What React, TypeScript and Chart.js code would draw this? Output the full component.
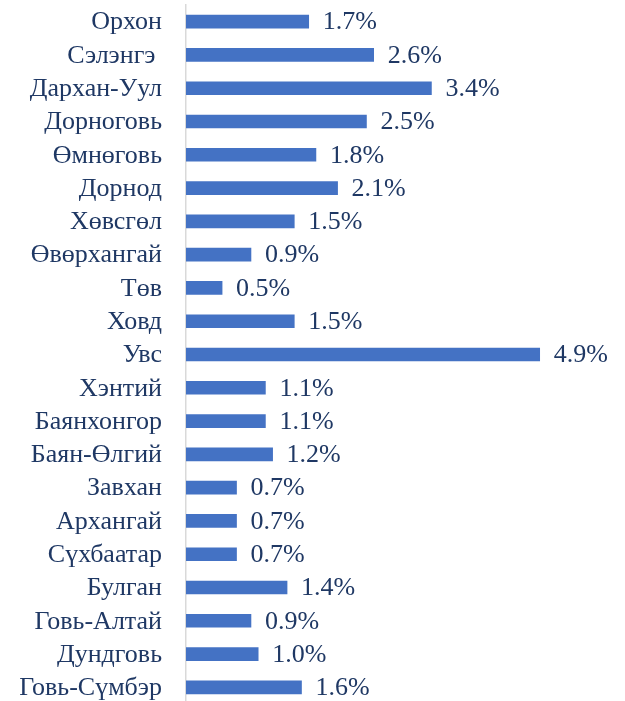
import React, { useEffect, useRef } from "react";
import { Chart, registerables } from "chart.js";

Chart.register(...registerables);

const categories: string[] = [
  "Орхон",
  "Сэлэнгэ ",
  "Дархан-Уул",
  "Дорноговь",
  "Өмнөговь",
  "Дорнод",
  "Хөвсгөл",
  "Өвөрхангай",
  "Төв",
  "Ховд",
  "Увс",
  "Хэнтий",
  "Баянхонгор",
  "Баян-Өлгий",
  "Завхан",
  "Архангай",
  "Сүхбаатар",
  "Булган",
  "Говь-Алтай",
  "Дундговь",
  "Говь-Сүмбэр",
];

const values: number[] = [
  1.7, 2.6, 3.4, 2.5, 1.8, 2.1, 1.5, 0.9, 0.5, 1.5, 4.9, 1.1, 1.1, 1.2, 0.7, 0.7, 0.7, 1.4, 0.9, 1.0, 1.6,
];

const TEXT_COLOR = "#1F3864";
const FONT_FAMILY = "'Liberation Serif', 'Times New Roman', serif";
const FONT_SIZE = 26;

const textPlugin = {
  id: "textPlugin",
  afterDatasetsDraw(chart: any) {
    const ctx = chart.ctx;
    const meta = chart.getDatasetMeta(0);
    ctx.save();
    ctx.font = `${FONT_SIZE}px ${FONT_FAMILY}`;
    ctx.fillStyle = TEXT_COLOR;
    ctx.textBaseline = "middle";
    meta.data.forEach((bar: any, i: number) => {
      ctx.textAlign = "left";
      ctx.fillText(values[i].toFixed(1) + "%", bar.x + 14, bar.y + 1);
      ctx.textAlign = "right";
      ctx.fillText(categories[i], chart.chartArea.left - 24, bar.y + 1);
    });
    ctx.restore();
  },
};

export default function App() {
  const ref = useRef<HTMLCanvasElement | null>(null);
  useEffect(() => {
    if (!ref.current) return;
    const chart = new Chart(ref.current, {
      type: "bar",
      data: {
        labels: categories,
        datasets: [
          {
            data: values,
            backgroundColor: "#4472C4",
            borderWidth: 0,
            barThickness: 13,
          },
        ],
      },
      options: {
        indexAxis: "y",
        animation: false,
        responsive: false,
        maintainAspectRatio: false,
        layout: { padding: { top: 5, bottom: 0, left: 0, right: 42 } },
        plugins: {
          legend: { display: false },
          tooltip: { enabled: false },
        },
        scales: {
          x: {
            display: false,
            min: 0,
            max: 5.5,
          },
          y: {
            afterFit: (s: any) => {
              s.width = 186;
            },
            grid: { drawTicks: false, color: "transparent" },
            border: { display: true, color: "#D9D9D9", width: 1.5 },
            ticks: { display: false },
          },
        },
      },
      plugins: [textPlugin],
    });
    return () => chart.destroy();
  }, []);

  return (
    <div style={{ position: "fixed", left: 0, top: 0, width: 625, height: 704, background: "#fff" }}>
      <canvas ref={ref} width={625} height={704} style={{ width: 625, height: 704 }} />
    </div>
  );
}
